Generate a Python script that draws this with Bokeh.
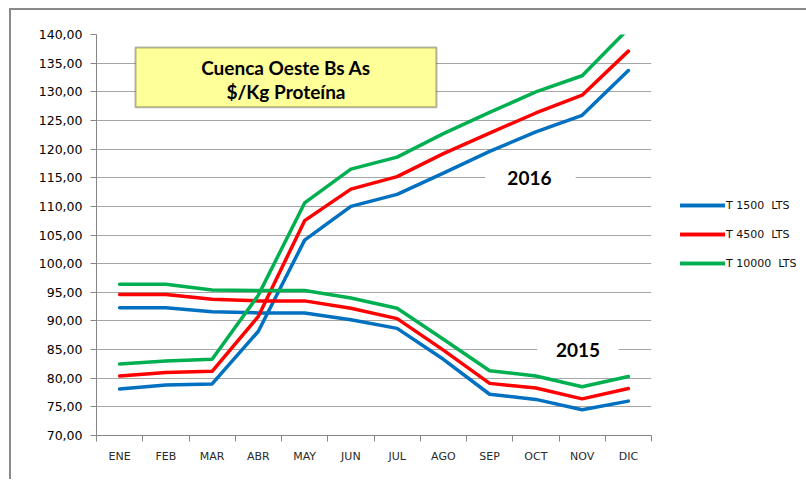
from bokeh.plotting import figure
from bokeh.models import (Range1d, FixedTicker, CustomJSTickFormatter, BoxAnnotation,
                          Label, Legend, LegendItem)
from bokeh.embed import file_html
from bokeh.resources import INLINE

months = ["ENE", "FEB", "MAR", "ABR", "MAY", "JUN", "JUL", "AGO", "SEP", "OCT", "NOV", "DIC"]

t1500_2016 = [78.1, 78.8, 79.0, 88.2, 104.1, 110.0, 112.1, 115.8, 119.6, 123.0, 125.9, 133.7]
t4500_2016 = [80.4, 81.0, 81.2, 90.8, 107.5, 113.0, 115.2, 119.2, 122.8, 126.3, 129.4, 137.1]
t10000_2016 = [82.5, 83.0, 83.3, 94.5, 110.6, 116.5, 118.6, 122.7, 126.4, 130.0, 132.8, 141.0]

t1500_2015 = [92.3, 92.3, 91.6, 91.4, 91.4, 90.2, 88.7, 83.3, 77.2, 76.3, 74.5, 76.0]
t4500_2015 = [94.6, 94.6, 93.8, 93.5, 93.5, 92.2, 90.4, 84.9, 79.1, 78.3, 76.4, 78.2]
t10000_2015 = [96.4, 96.4, 95.4, 95.3, 95.3, 94.0, 92.2, 86.8, 81.3, 80.4, 78.5, 80.3]

series_names = ["T 1500  LTS", "T 4500  LTS", "T 10000  LTS"]
colors = ["#0070C0", "#FF0000", "#00B050"]
y_ticks = list(range(70, 141, 5))

x = [i + 0.5 for i in range(len(months))]

p = figure(frame_width=555, frame_height=401,
           x_range=Range1d(0, len(months)), y_range=Range1d(70, 140),
           output_backend="svg", toolbar_location=None,
           min_border_left=85, min_border_right=145, min_border_top=24, min_border_bottom=44)
p.styles = {"border-left": "2px solid #8a8a8a", "border-top": "2px solid #8a8a8a",
            "margin-left": "9px", "margin-top": "8px"}
p.outline_line_color = None
p.background_fill_color = "white"
p.border_fill_color = "white"

p.xgrid.visible = False
p.ygrid.grid_line_color = "#A6A6A6"
p.ygrid.grid_line_width = 1

# y axis
p.yaxis.ticker = FixedTicker(ticks=y_ticks)
p.yaxis.formatter = CustomJSTickFormatter(code="return tick.toFixed(2).replace('.', ',');")
p.yaxis.axis_line_color = "#868686"
p.yaxis.major_tick_line_color = "#868686"
p.yaxis.major_tick_out = 6
p.yaxis.major_tick_in = 0
p.yaxis.minor_tick_line_color = None
p.yaxis.major_label_standoff = 8
p.yaxis.major_label_text_font = "DejaVu Sans"
p.yaxis.major_label_text_font_size = "12.5px"
p.yaxis.major_label_text_color = "#000000"

# x axis
p.xaxis.ticker = FixedTicker(ticks=x, minor_ticks=list(range(len(months) + 1)))
p.xaxis.formatter = CustomJSTickFormatter(args=dict(labels=months),
                                          code="return labels[Math.floor(tick)];")
p.xaxis.axis_line_color = "#868686"
p.xaxis.major_tick_out = 0
p.xaxis.major_tick_in = 0
p.xaxis.minor_tick_out = 6
p.xaxis.minor_tick_in = 0
p.xaxis.minor_tick_line_color = "#868686"
p.xaxis.major_label_standoff = 8
p.xaxis.major_label_text_font = "DejaVu Sans"
p.xaxis.major_label_text_font_size = "11px"
p.xaxis.major_label_text_color = "#2a2a2a"

# white gaps behind year labels
p.add_layout(BoxAnnotation(left=8.41, right=10.36, bottom=113.6, top=116.4,
                           fill_color="white", fill_alpha=1, line_color=None, level="underlay"))
p.add_layout(BoxAnnotation(left=9.53, right=11.29, bottom=83.6, top=86.4,
                           fill_color="white", fill_alpha=1, line_color=None, level="underlay"))

data2016 = [t1500_2016, t4500_2016, t10000_2016]
data2015 = [t1500_2015, t4500_2015, t10000_2015]
items = []
for name, c, a, b in zip(series_names, colors, data2016, data2015):
    r1 = p.line(x, a, line_color=c, line_width=3.5, line_join="round", line_cap="round")
    r2 = p.line(x, b, line_color=c, line_width=3.5, line_join="round", line_cap="round")
    items.append(LegendItem(label=name, renderers=[r1, r2]))

legend = Legend(items=items, location=(29, 162), orientation="vertical",
                border_line_color=None, background_fill_alpha=0, padding=0, margin=0,
                spacing=9, glyph_width=45, glyph_height=20, label_height=20,
                label_standoff=1, label_text_font="DejaVu Sans", label_text_font_size="11px",
                label_text_color="#111111")
p.add_layout(legend, "right")

# title box
p.add_layout(BoxAnnotation(left=0.843, right=7.35, bottom=127.32, top=137.73,
                           fill_color="#FFFF99", fill_alpha=1, line_color="black", line_width=2))
p.add_layout(Label(x=4.097, y=134.18, text="Cuenca Oeste Bs As", text_align="center",
                   text_baseline="middle", text_font="Lato", text_font_style="bold",
                   text_font_size="19px", text_color="black"))
p.add_layout(Label(x=4.097, y=130.11, text="$/Kg Proteína", text_align="center",
                   text_baseline="middle", text_font="Lato", text_font_style="bold",
                   text_font_size="19px", text_color="black"))

p.add_layout(Label(x=9.36, y=115.0, text="2016", text_align="center", text_baseline="middle",
                   text_font="Lato", text_font_style="bold", text_font_size="19px",
                   text_color="black"))
p.add_layout(Label(x=10.41, y=85.0, text="2015", text_align="center", text_baseline="middle",
                   text_font="Lato", text_font_style="bold", text_font_size="19px",
                   text_color="black"))

open("out.html", "w").write(file_html(p, INLINE))
